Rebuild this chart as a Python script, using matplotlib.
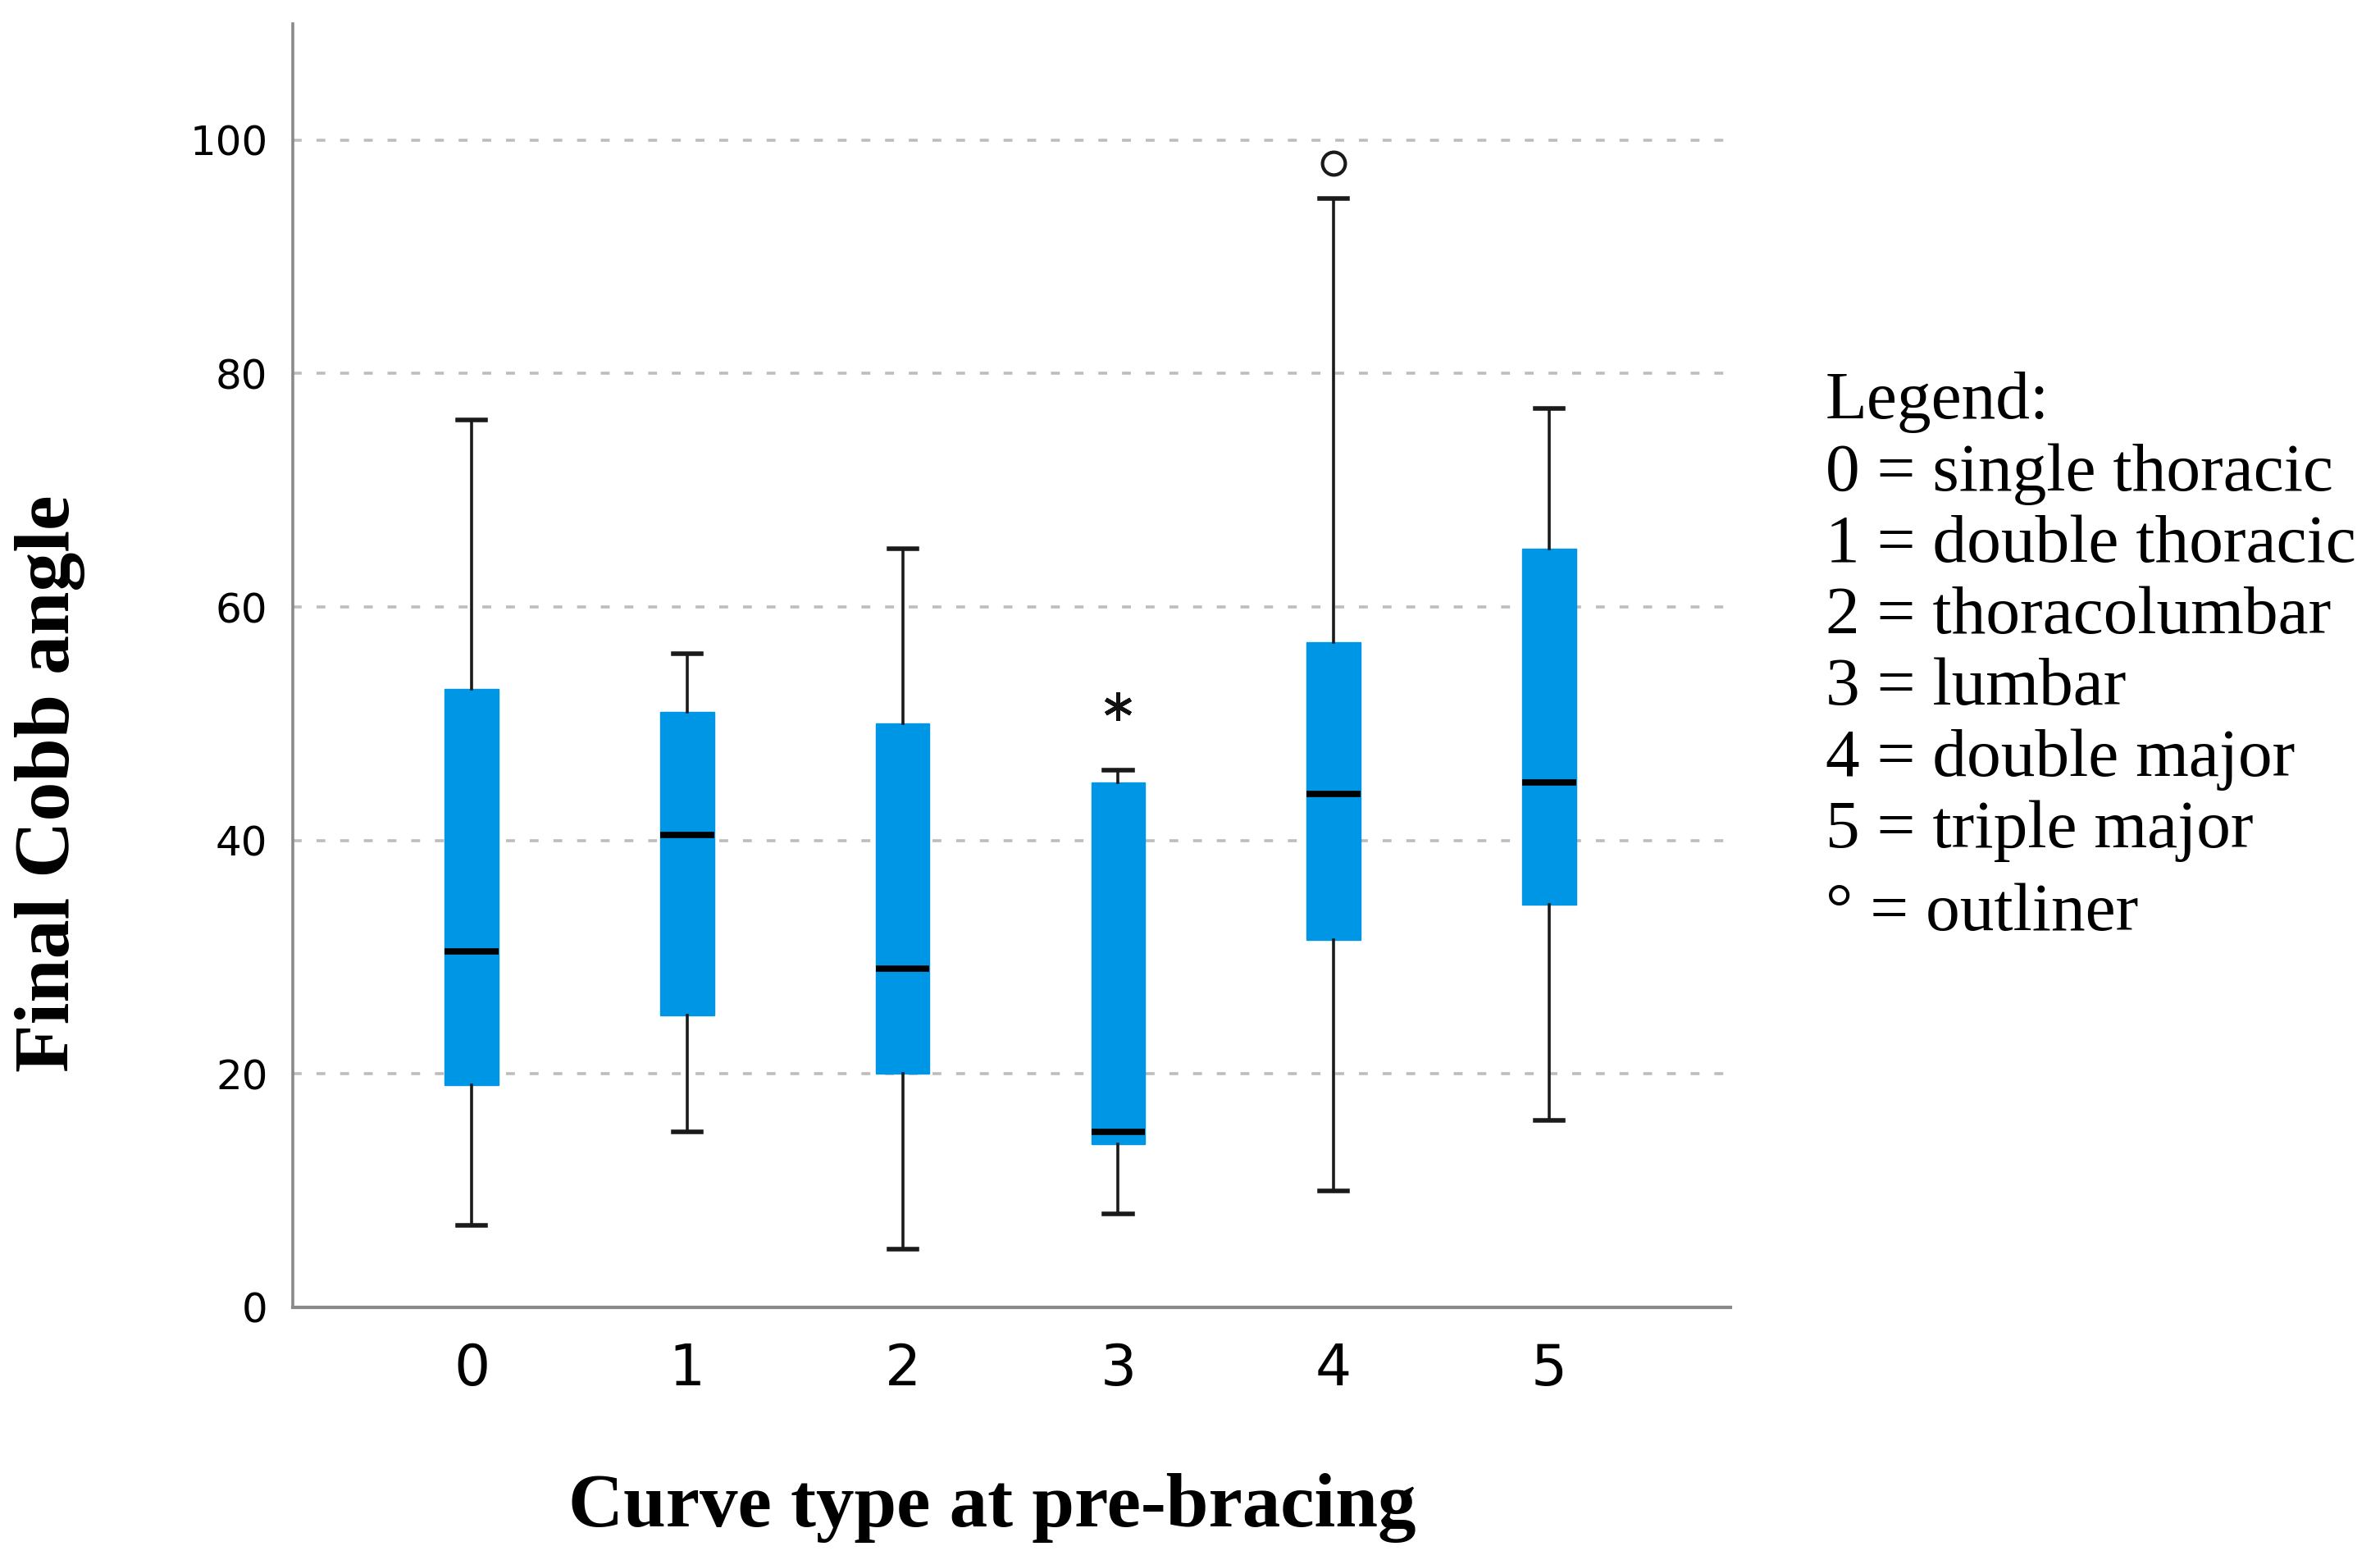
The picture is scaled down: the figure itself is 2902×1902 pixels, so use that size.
import matplotlib
matplotlib.use("Agg")
import matplotlib.pyplot as plt

# ---- data ----
categories = ["0", "1", "2", "3", "4", "5"]
whisker_low = [7, 15, 5, 8, 10, 16]
q1 = [19, 25, 20, 14, 31.5, 34.5]
median = [30.5, 40.5, 29, 15, 44, 45]
q3 = [53, 51, 50, 45, 57, 65]
whisker_high = [76, 56, 65, 46, 95, 77]
outlier_cat = [4]
outlier_val = [98]
extreme_cat = [3]
extreme_val = [51.5]
yticks = [0, 20, 40, 60, 80, 100]
legend_lines = ["Legend:", "0 = single thoracic", "1 = double thoracic",
                "2 = thoracolumbar", "3 = lumbar", "4 = double major",
                "5 = triple major"]
legend_last = "\u00b0 = outliner"

BLUE = "#0096E6"

fig = plt.figure(figsize=(29.02, 19.02), dpi=100)
ax = fig.add_axes([0.123, 0.162, 0.604, 0.823])

stats = []
for i in range(len(categories)):
    stats.append(dict(whislo=whisker_low[i], q1=q1[i], med=median[i],
                      q3=q3[i], whishi=whisker_high[i], fliers=[]))

positions = list(range(len(categories)))
ax.bxp(stats, positions=positions, widths=0.25, capwidths=0.13,
       patch_artist=True, showfliers=False,
       boxprops=dict(facecolor=BLUE, edgecolor=BLUE, linewidth=1),
       medianprops=dict(color="black", linewidth=5.5, solid_capstyle="butt"),
       whiskerprops=dict(color="#1a1a1a", linewidth=2.6),
       capprops=dict(color="#1a1a1a", linewidth=4))

ax.plot(outlier_cat, outlier_val, linestyle="none", marker="o",
        markersize=20, markerfacecolor="white", markeredgecolor="#1a1a1a",
        markeredgewidth=3, zorder=5)
ax.plot(extreme_cat, extreme_val, linestyle="none", marker=(6, 2, 0),
        markersize=25, markeredgecolor="#111111", markeredgewidth=3.6, zorder=5)

ax.set_xlim(-0.83, 5.84)
ax.set_ylim(0, 110)
ax.set_yticks(yticks)
ax.set_yticklabels([str(v) for v in yticks], fontsize=36, family="DejaVu Sans")
ax.set_xticks(positions)
ax.set_xticklabels(categories, fontsize=50, family="DejaVu Sans")
ax.tick_params(axis="y", length=0, pad=22)
ax.tick_params(axis="x", length=0, pad=30)

for y in yticks[1:]:
    ax.axhline(y, color="#bdbdbd", linewidth=2.6, linestyle=(0, (3, 5)), zorder=0)

for s in ["top", "right"]:
    ax.spines[s].set_visible(False)
ax.spines["left"].set_color("#8a8a8a")
ax.spines["left"].set_linewidth(2.6)
ax.spines["bottom"].set_color("#8a8a8a")
ax.spines["bottom"].set_linewidth(3)

fig.text(0.417, 1 - 992 / 1026, "Curve type at pre-bracing", fontsize=67,
         fontweight="bold", family="Liberation Serif", ha="center", va="center")
fig.text(0.021, 1 - 515 / 1026, "Final Cobb angle", fontsize=69,
         fontweight="bold", family="Liberation Serif", ha="center",
         va="center", rotation=90)

y0 = 0.742
dy = 0.0458
for k, line in enumerate(legend_lines):
    fig.text(0.767, y0 - k * dy, line, fontsize=60, family="Liberation Serif",
             va="center", ha="left")
fig.text(0.767, y0 - len(legend_lines) * dy - 0.007, legend_last, fontsize=60,
         family="Liberation Serif", va="center", ha="left")

fig.savefig("out.png", dpi=100)
